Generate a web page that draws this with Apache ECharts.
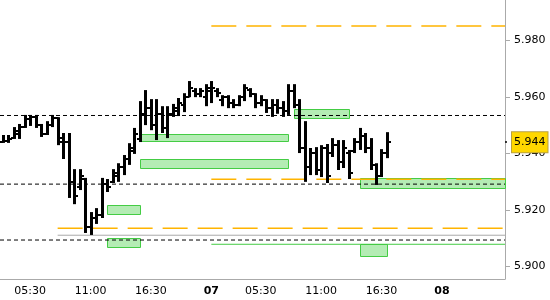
<!DOCTYPE html>
<html><head><meta charset="utf-8">
<script src="https://cdn.jsdelivr.net/npm/echarts@6/dist/echarts.min.js"></script>
<style>html,body{margin:0;padding:0;background:#fff}#c{width:550px;height:300px}</style>
</head><body><div id="c"></div>
<script>
const categories = [
 '03:00','03:30','04:00','04:30','05:00','05:30','06:00','06:30','07:00','07:30','08:00','08:30','09:00','09:30',
 '10:00','10:30','11:00','11:30','12:00','12:30','13:00','13:30','14:00','14:30','15:00','15:30','16:00','16:30',
 '17:00','17:30','18:00','18:30','19:00','19:30','20:00','20:30','21:00','21:30',
 '07','00:30','01:00','01:30','03:00','03:30','04:00','04:30','05:00','05:30','06:00','06:30','07:00','07:30',
 '08:00','08:30','09:00','09:30','10:00','10:30','11:00','11:30','12:00','12:30','13:00','13:30','14:00','14:30',
 '15:00','15:30','16:00','16:30','17:00','17:30','18:00','18:30','19:00','19:30','20:00','20:30','21:00','21:30',
 '08','00:30','01:00','01:30','03:00','03:30','04:00','04:30','05:00','05:30','06:00','06:30'
];
const labelIdx = [5,16,27,38,47,58,69,80];
const tickIdx = [5,16,27,38,47,58,69,80,89];

const opens  = [5.9440,5.9445,5.9455,5.9470,5.9495,5.9520,5.9530,5.9500,5.9470,5.9500,5.9525,5.9455,5.9440,5.9300,5.9280,5.9310,5.9140,5.9170,5.9180,5.9290,5.9300,5.9320,5.9350,5.9380,5.9410,5.9450,5.9540,5.9560,5.9500,5.9540,5.9490,5.9540,5.9550,5.9570,5.9600,5.9620,5.9610,5.9600,5.9620,5.9620,5.9590,5.9600,5.9580,5.9570,5.9600,5.9625,5.9610,5.9580,5.9590,5.9560,5.9570,5.9560,5.9550,5.9620,5.9570,5.9420,5.9350,5.9400,5.9340,5.9420,5.9400,5.9430,5.9370,5.9400,5.9410,5.9440,5.9460,5.9420,5.9360,5.9320,5.9400];
const highs  = [5.9465,5.9465,5.9493,5.9504,5.9536,5.9536,5.9536,5.9504,5.9514,5.9536,5.9528,5.9472,5.9472,5.9344,5.9344,5.9313,5.9192,5.9206,5.9313,5.9309,5.9344,5.9365,5.9394,5.9436,5.9490,5.9585,5.9624,5.9592,5.9592,5.9567,5.9567,5.9575,5.9596,5.9613,5.9656,5.9631,5.9631,5.9645,5.9656,5.9631,5.9606,5.9606,5.9592,5.9606,5.9645,5.9631,5.9613,5.9606,5.9592,5.9592,5.9592,5.9585,5.9645,5.9645,5.9592,5.9514,5.9419,5.9422,5.9429,5.9433,5.9454,5.9447,5.9447,5.9412,5.9454,5.9490,5.9472,5.9454,5.9365,5.9415,5.9475];
const lows   = [5.9437,5.9437,5.9451,5.9451,5.9490,5.9497,5.9490,5.9458,5.9465,5.9493,5.9429,5.9380,5.9242,5.9220,5.9270,5.9118,5.9111,5.9150,5.9171,5.9263,5.9295,5.9299,5.9323,5.9359,5.9398,5.9440,5.9500,5.9482,5.9447,5.9472,5.9454,5.9529,5.9532,5.9546,5.9599,5.9599,5.9599,5.9567,5.9578,5.9599,5.9567,5.9560,5.9560,5.9567,5.9585,5.9599,5.9560,5.9567,5.9543,5.9529,5.9540,5.9529,5.9536,5.9560,5.9401,5.9299,5.9323,5.9323,5.9316,5.9295,5.9387,5.9341,5.9348,5.9309,5.9401,5.9412,5.9401,5.9341,5.9288,5.9316,5.9383];
const closes = [5.9445,5.9450,5.9480,5.9495,5.9520,5.9530,5.9500,5.9470,5.9500,5.9525,5.9440,5.9440,5.9300,5.9250,5.9320,5.9140,5.9170,5.9180,5.9290,5.9280,5.9330,5.9350,5.9380,5.9420,5.9470,5.9540,5.9560,5.9500,5.9540,5.9490,5.9540,5.9560,5.9580,5.9600,5.9630,5.9610,5.9620,5.9630,5.9630,5.9615,5.9600,5.9580,5.9570,5.9600,5.9630,5.9610,5.9580,5.9590,5.9560,5.9570,5.9560,5.9550,5.9620,5.9570,5.9420,5.9350,5.9400,5.9340,5.9420,5.9320,5.9430,5.9370,5.9420,5.9330,5.9440,5.9460,5.9420,5.9360,5.9320,5.9400,5.9440];

// zones: [fromX, toX, top, bottom] (x in bar units on a 0..92 scale)
const zoneFrom   = [25.5, 25.5, 19.5, 19.5, 53.5, 65.5, 65.5];
const zoneTo     = [52.5, 52.5, 25.5, 25.5, 63.5, 92,   70.5];
const zoneTop    = [5.9467, 5.9379, 5.9217, 5.9101, 5.9556, 5.9313, 5.9078];
const zoneBottom = [5.9442, 5.9347, 5.9186, 5.9070, 5.9524, 5.9279, 5.9037];

// horizontal levels
const levelValue = [5.9851, 5.9534, 5.9291, 5.9308, 5.9135, 5.9110, 5.9093, 5.9078];
const levelFrom  = [38.5, 0, 0, 38.5, 10.5, 10.5, 0, 38.5];
const levelKind  = ['target','pivot','pivot','target','target','low','pivot','support'];

const lastPrice = 5.944;
const yMin = 5.8955, yMax = 5.9943, xSpan = 92;

const FONT = 'DejaVu Sans';
const kindStyle = {
  target:  {color:'#FFB400', width:1.5, type:[25,10]},
  pivot:   {color:'#000', width:1, type:[4,3]},
  low:     {color:'#aaaaaa', width:1, type:'solid'},
  support: {color:'#44CC44', width:1, type:'solid'}
};

const bars = opens.map((o,i)=>[i, o, highs[i], lows[i], closes[i]]);
const zones = zoneFrom.map((f,i)=>[f, zoneTo[i], zoneTop[i], zoneBottom[i]]);

const levelSeries = levelValue.map((v,i)=>({
  type:'line', xAxisIndex:1, yAxisIndex:0, symbol:'none', silent:true, z:3,
  data:[[levelFrom[i], v],[xSpan, v]],
  lineStyle:kindStyle[levelKind[i]], animation:false
}));

const chart = echarts.init(document.getElementById('c'), null, {renderer:'canvas'});
chart.setOption({
  animation:false,
  grid:{left:0, right:45, top:0, bottom:21, containLabel:false},
  xAxis:[{
    type:'category', data:categories, boundaryGap:true,
    axisLine:{onZero:false, lineStyle:{color:'#aaaaaa'}},
    axisTick:{length:4, alignWithLabel:true, lineStyle:{color:'#aaaaaa'}, interval:(i)=>tickIdx.includes(i)},
    axisLabel:{interval:(i)=>labelIdx.includes(i), margin:7, color:'#000', fontFamily:FONT, fontSize:11,
      formatter:(v)=> v.length===2 ? '{d|'+v+'}' : v,
      rich:{d:{fontWeight:'bold', fontFamily:FONT, fontSize:11, color:'#000'}}},
    splitLine:{show:false}
  },{
    type:'value', min:0, max:xSpan, show:false
  }],
  yAxis:{
    type:'value', position:'right', min:yMin, max:yMax, scale:true,
    axisLine:{show:true, onZero:false, lineStyle:{color:'#aaaaaa'}},
    axisTick:{show:true, length:5, lineStyle:{color:'#aaaaaa'}},
    axisLabel:{showMinLabel:false, showMaxLabel:false, margin:9, color:'#000', fontFamily:FONT, fontSize:11,
      formatter:(v)=>v.toFixed(3)},
    splitLine:{show:false}
  },
  series:[
    {
      type:'custom', xAxisIndex:1, yAxisIndex:0, z:2, data:zones, encode:{x:[0,1], y:[2,3]},
      renderItem:(p, api)=>{
        const a = api.coord([api.value(0), api.value(2)]);
        const b = api.coord([api.value(1), api.value(3)]);
        return {type:'rect', shape:{x:Math.round(a[0])+0.5, y:Math.round(a[1])+0.5, width:Math.round(b[0]-a[0]), height:Math.round(b[1]-a[1])},
          style:{fill:'#B4ECB4', stroke:'#44CC44', lineWidth:1}};
      }
    },
    ...levelSeries,
    {
      type:'line', xAxisIndex:1, yAxisIndex:0, symbol:'none', clip:false, z:5,
      data:[[xSpan, lastPrice],[xSpan+0.95, lastPrice]], lineStyle:{color:'#000', width:1.5},
      markLine:{silent:true, symbol:['none','none'], lineStyle:{color:'rgba(0,0,0,0)', width:0},
        data:[{yAxis:lastPrice}],
        label:{show:true, position:'end', distance:7, offset:[0,-11], formatter:lastPrice.toFixed(3), color:'#000', fontFamily:FONT, fontSize:11,
          backgroundColor:'#FFD700', borderColor:'#B8A040', borderWidth:1, padding:[5,2,4,2]}}
    },
    {
      type:'custom', xAxisIndex:0, yAxisIndex:0, z:10, data:bars, encode:{x:0, y:[1,2,3,4]},
      renderItem:(p, api)=>{
        const i = api.value(0);
        const x = Math.round(api.coord([i, api.value(2)])[0]) + 0.5;
        const hy = api.coord([i, api.value(2)])[1];
        const ly = api.coord([i, api.value(3)])[1];
        const oy = Math.round(api.coord([i, api.value(1)])[1]);
        const cy = Math.round(api.coord([i, api.value(4)])[1]);
        return {type:'group', children:[
          {type:'line', shape:{x1:x, y1:hy, x2:x, y2:ly}, style:{stroke:'#000', lineWidth:3}},
          {type:'line', shape:{x1:x-3.5, y1:oy, x2:x, y2:oy}, style:{stroke:'#000', lineWidth:2}},
          {type:'line', shape:{x1:x, y1:cy, x2:x+3.5, y2:cy}, style:{stroke:'#000', lineWidth:2}}
        ]};
      }
    }
  ]
});
</script></body></html>
